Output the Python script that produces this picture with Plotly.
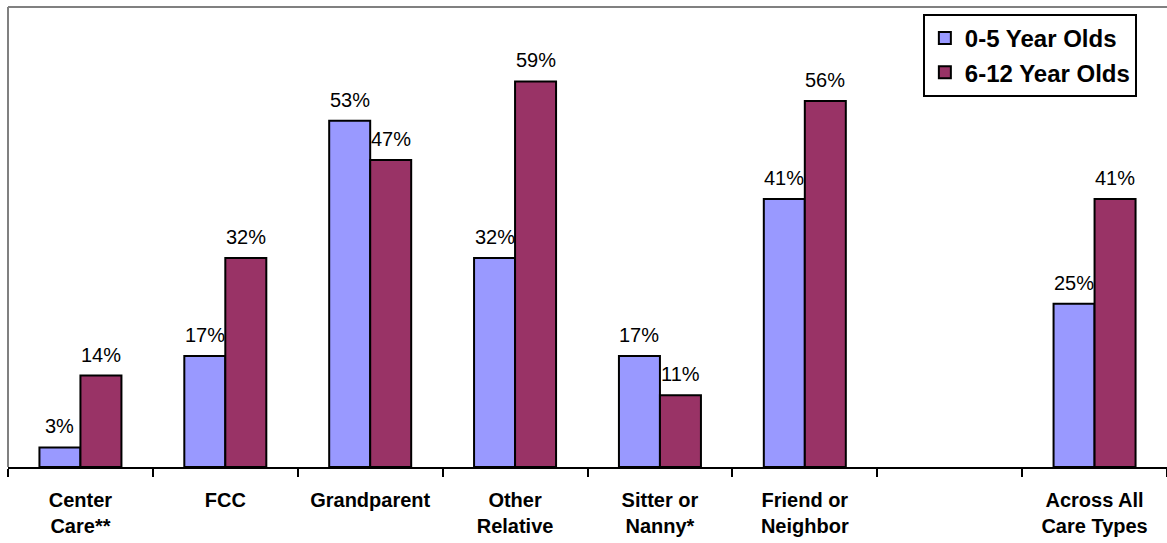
import plotly.graph_objects as go

# Care types (the empty slot is a spacer between the types and the overall total)
categories = ['Center<br>Care**', 'FCC', 'Grandparent', 'Other<br>Relative',
              'Sitter or<br>Nanny*', 'Friend or<br>Neighbor', ' ', 'Across All<br>Care Types']
ages_0_5 = [3, 17, 53, 32, 17, 41, None, 25]
ages_6_12 = [14, 32, 47, 59, 11, 56, None, 41]
series_names = ['0-5 Year Olds', '6-12 Year Olds']

FONT = 'Liberation Sans, Arial, sans-serif'
BLUE = '#9999FF'
MAROON = '#993366'

fig = go.Figure()
fig.add_trace(go.Bar(x=categories, y=ages_0_5, name=series_names[0],
                     marker=dict(color=BLUE, line=dict(color='black', width=2))))
fig.add_trace(go.Bar(x=categories, y=ages_6_12, name=series_names[1],
                     marker=dict(color=MAROON, line=dict(color='black', width=2))))

# Percent labels above each bar
bar_half = 20.5
for values, shift in [(ages_0_5, -bar_half), (ages_6_12, bar_half)]:
    for cat, v in zip(categories, values):
        if v is None:
            continue
        fig.add_annotation(x=cat, y=v, text=f'{v}%', showarrow=False,
                           xref='x', yref='y', yanchor='bottom', xshift=shift, yshift=8,
                           font=dict(family=FONT, size=20, color='black'))

# Gray frame on top and left of the plot area
fig.add_shape(type='line', xref='paper', yref='paper', x0=0, x1=1, y0=1, y1=1,
              line=dict(color='#808080', width=2))
fig.add_shape(type='line', xref='paper', yref='paper', x0=0, x1=0, y0=0, y1=1,
              line=dict(color='#808080', width=2))

fig.update_xaxes(showline=True, linecolor='black', linewidth=2,
                 ticks='outside', tickson='boundaries', ticklen=8, tickwidth=2,
                 tickcolor='black', showgrid=False, ticklabelstandoff=14,
                 tickfont=dict(family=FONT, size=20, color='black', weight='bold'))
fig.update_yaxes(range=[0, 70.4], visible=False, showgrid=False)

fig.update_layout(
    width=1167, height=543,
    margin=dict(l=8, r=0, t=7, b=76),
    barmode='group', bargap=0.434, bargroupgap=0,
    plot_bgcolor='white', paper_bgcolor='white',
    font=dict(family=FONT, color='black'),
    legend=dict(x=0.974, y=0.8946, xanchor='right', yanchor='middle',
                bordercolor='black', borderwidth=2, bgcolor='white',
                font=dict(family=FONT, size=24, color='black', weight='bold'),
                tracegroupgap=0, itemsizing='constant'),
)

# page margin off so the figure sits at the window corner
fig.write_html('out.html', config={'displayModeBar': False},
               post_script="document.body.style.margin='0';")
